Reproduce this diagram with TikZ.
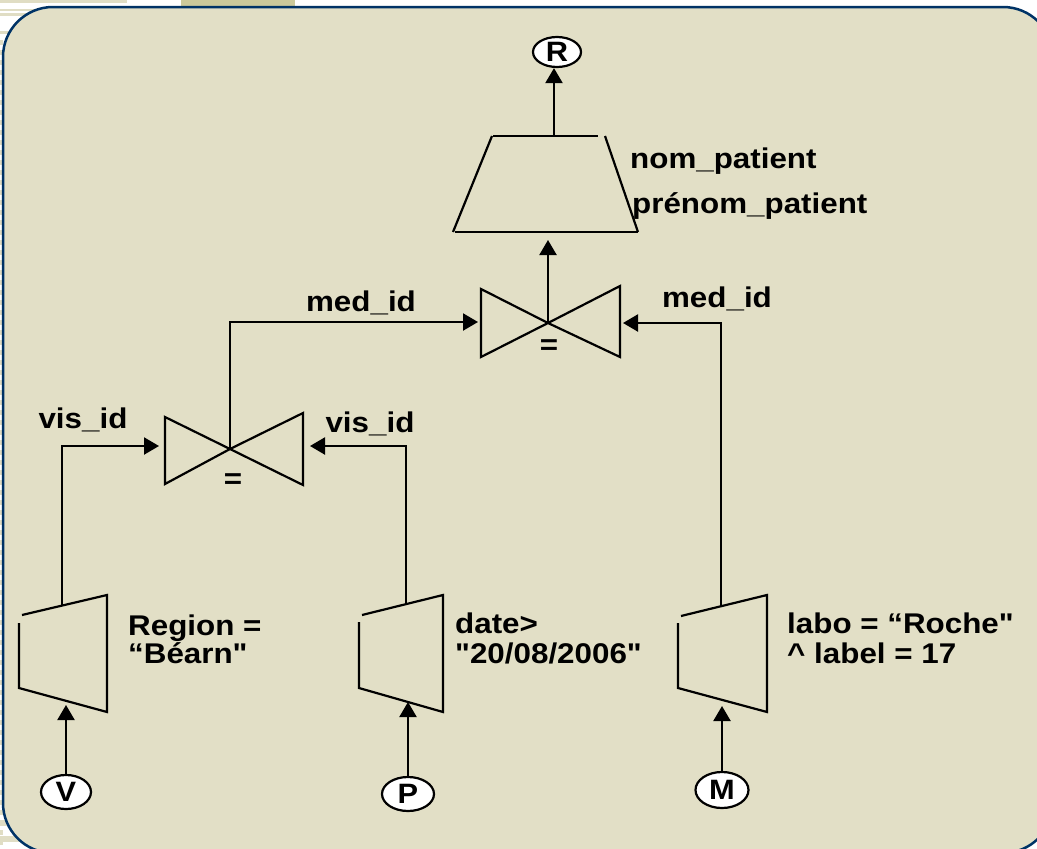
\documentclass[tikz,border=0pt]{standalone}
\usepackage{fontspec}
\newfontfamily\labfont{Liberation Sans}[FakeStretch=1.1]
\usetikzlibrary{arrows.meta,shapes.geometric}
\definecolor{boxfill}{RGB}{226,223,198}
\definecolor{navy}{RGB}{0,51,102}
\definecolor{tabtan}{RGB}{204,201,154}
\definecolor{stripe}{RGB}{224,221,196}
\begin{document}
\begin{tikzpicture}[x=1pt,y=-1pt,
  ln/.style={line width=2.2pt},
  arr/.style={line width=2.2pt,-{Triangle[length=15pt,width=17pt]}},
  rel/.style={ellipse,draw=black,fill=white,line width=2.2pt,inner sep=0pt,
    minimum width=50pt,minimum height=34pt,
    font=\labfont\bfseries\fontsize{28}{28}\selectfont},
  lbl/.style={font=\labfont\bfseries\fontsize{28.5}{29}\selectfont,anchor=base west,inner sep=0pt},
  clbl/.style={lbl,anchor=base},
  eqlbl/.style={font=\labfont\bfseries\fontsize{28.5}{29}\selectfont,inner sep=0pt}]
\useasboundingbox (0,0) rectangle (1037,849);
% slide background
\fill[white] (0,0) rectangle (1037,849);
\fill[stripe] (0,0) rectangle (127,2.7);
\fill[stripe] (0,9) rectangle (50,11);
\fill[stripe] (0,13) rectangle (40,16);
\fill[stripe] (0,31) rectangle (25,34);
\foreach \yy in {40,50,...,840} \fill[stripe] (0,\yy) rectangle (3,\yy+5);
\fill[stripe] (0,820) rectangle (40,826);
\fill[stripe] (0,836) rectangle (60,842);
\fill[tabtan] (181,0) rectangle (295,6);
\draw[navy,line width=2.5pt,fill=boxfill,rounded corners=50pt] (3,7) rectangle (1053,853);

% relations
\node[rel,minimum width=48pt,minimum height=30pt] (R) at (557,52) {R};
\node[rel] (V) at (66,792) {V};
\node[rel,minimum width=52pt] (P) at (408,794) {P};
\node[rel,minimum width=53pt,minimum height=36pt] (M) at (722,790) {M};

% projection
\draw[ln] (493,136) -- (598,136);
\draw[ln] (492,136) -- (453,232);
\draw[ln] (455,232) -- (638,232);
\draw[ln] (605,136) -- (638,232);
\coordinate (projTop) at (554,136);
\coordinate (projIn) at (548,240);
\draw[arr] (projTop) -- (projTop |- R.south);
\node[lbl] (attr1) at (630,168) {nom\_patient};
\node[lbl] (attr2) at (632,213) {prénom\_patient};

% upper join
\coordinate (J1) at (548,323);
\draw[ln,line join=miter] (481,289) -- (481,357) -- (J1) -- cycle;
\draw[ln,line join=miter] (620,286) -- (620,357) -- (J1) -- cycle;
\node[eqlbl] (eq1) at (549,347) {=};
\draw[arr] (J1) -- (projIn);
\coordinate (J1l) at (478,322);
\coordinate (J1r) at (623,323);

% lower join
\coordinate (J2) at (230,449);
\draw[ln,line join=miter] (165,417) -- (165,484) -- (J2) -- cycle;
\draw[ln,line join=miter] (303,413) -- (303,485) -- (J2) -- cycle;
\node[eqlbl] (eq2) at (233,481) {=};
\coordinate (J2l) at (159,446);
\coordinate (J2r) at (310,446);

% selections
\draw[ln] (19,623) -- (19,688) -- (107,712) -- (107,595) -- (22,615);
\draw[ln] (359,622) -- (359,688) -- (443,712) -- (443,595) -- (362,615);
\draw[ln] (678,623) -- (678,688) -- (767,712) -- (767,595) -- (681,616);
\coordinate (vOut) at (62,605);
\coordinate (pOut) at (406,604);
\coordinate (mOut) at (721,606);
\coordinate (vIn) at (66,705);
\coordinate (pIn) at (408,702);
\coordinate (mIn) at (722,706);

% connectors
\draw[arr] (V) -- (vIn);
\draw[arr] (P) -- (pIn);
\draw[arr] (M) -- (mIn);
\draw[arr] (vOut) |- (J2l);
\draw[arr] (pOut) |- (J2r);
\draw[arr] (J2) |- (J1l);
\draw[arr] (mOut) |- (J1r);

% labels
\node[clbl] (medL) at (361,311) {med\_id};
\node[clbl] (medR) at (717,307) {med\_id};
\node[clbl] (visL) at (83,428) {vis\_id};
\node[clbl] (visR) at (370,432) {vis\_id};
\node[lbl] (condV1) at (128,635) {Region =};
\node[lbl] (condV2) at (128,663) {“Béarn"};
\node[lbl] (condP1) at (455,633) {date>};
\node[lbl] (condP2) at (455,663) {"20/08/2006"};
\node[lbl] (condM1) at (787,633) {labo = “Roche"};
\node[lbl] (condM2) at (787,663) {\char"5E{} label = 17};
\end{tikzpicture}
\end{document}
